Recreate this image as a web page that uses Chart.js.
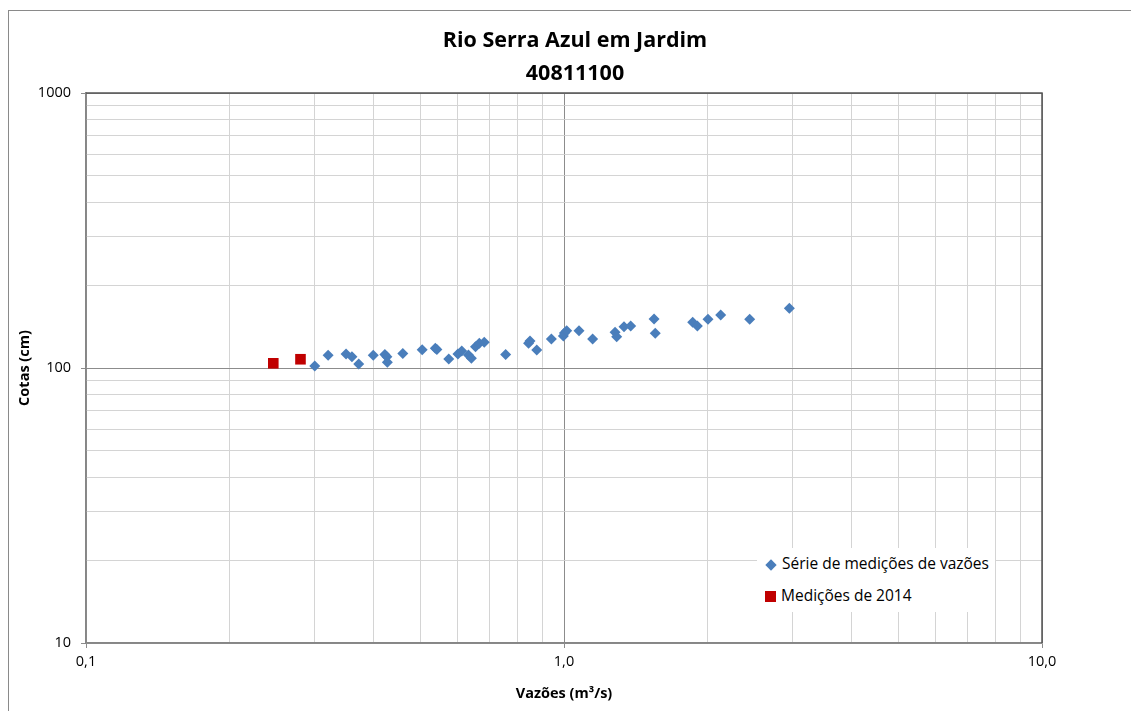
<!DOCTYPE html>
<html>
<head>
<meta charset="utf-8">
<script src="https://cdn.jsdelivr.net/npm/chart.js@4/dist/chart.umd.min.js"></script>
<style>
  html, body { margin: 0; padding: 0; background: #fff; overflow: hidden; }
  #frame { position: absolute; left: 8px; top: 10px; width: 1200px; height: 800px; border: 1px solid #8a8a8a; }
  #wrap { position: absolute; left: 0; top: 0; width: 1131px; height: 711px; }
  #legende { position: absolute; left: 757px; top: 548px; width: 238px; height: 64px; background: #fff;
    font-family: "Open Sans", sans-serif; font-size: 15.5px; color: #000; }
  .item { position: absolute; left: 8px; height: 20px; line-height: 20px; white-space: nowrap; }
  .item span.m { display: inline-block; vertical-align: middle; margin-right: 5px; }
</style>
</head>
<body>
<div id="frame"></div>
<div id="wrap"><canvas id="myChart" width="1131" height="711"></canvas></div>
<div id="legende"></div>
<script>
// données
const qSerie = [0.301, 0.321, 0.350, 0.360, 0.372, 0.399, 0.422, 0.426, 0.427, 0.460,
  0.505, 0.538, 0.542, 0.574, 0.600, 0.611, 0.631, 0.640, 0.653, 0.665,
  0.681, 0.755, 0.843, 0.849, 0.877, 0.941, 0.997, 1.002, 1.013, 1.075,
  1.148, 1.279, 1.289, 1.335, 1.379, 1.543, 1.552, 1.859, 1.901, 2.001,
  2.127, 2.446, 2.961];
const hSerie = [101.7, 111.2, 112.4, 109.9, 103.4, 111.2, 112.0, 109.9, 104.9, 113.0,
  116.6, 117.9, 116.8, 107.9, 112.4, 115.2, 111.5, 108.4, 119.5, 123.0,
  124.0, 112.0, 123.0, 125.4, 116.2, 127.5, 130.7, 134.0, 136.7, 136.7,
  127.5, 134.9, 130.0, 141.3, 142.1, 150.7, 133.7, 146.6, 142.1, 150.5,
  155.9, 150.5, 164.8];
const q2014 = [0.2465, 0.281];
const h2014 = [104.0, 107.6];

const labelsSeries = ['Série de medições de vazões', 'Medições de 2014'];

// graduations
const xGrid = [0.1, 0.2, 0.3, 0.4, 0.5, 0.6, 0.7, 0.8, 0.9, 1, 2, 3, 4, 5, 6, 7, 8, 9, 10];
const xMajor = [0.1, 1, 10];
const xLabels = ['0,1', '1,0', '10,0'];
const yGrid = [10, 20, 30, 40, 50, 60, 70, 80, 90, 100, 200, 300, 400, 500, 600, 700, 800, 900, 1000];
const yMajor = [10, 100, 1000];
const yLabels = ['10', '100', '1000'];

function toPoints(xs, ys) {
  return xs.map((x, i) => ({ x: x, y: ys[i] }));
}

const bleu = '#4a7ebb';
const rouge = '#c00000';

// cadre haut/droite de la zone de tracé
const cadrePlugin = {
  id: 'cadre',
  afterLayout(chart) {
    // le titre est centré sur tout le cadre du graphique (qui dépasse à droite)
    chart.titleBlock.left = 0;
    chart.titleBlock.right = 1150;
  },
  afterDraw(chart) {
    const a = chart.chartArea;
    const ctx = chart.ctx;
    ctx.save();
    ctx.strokeStyle = '#555';
    ctx.lineWidth = 1.5;
    ctx.beginPath();
    ctx.moveTo(a.left, a.top);
    ctx.lineTo(a.right, a.top);
    ctx.lineTo(a.right, a.bottom);
    ctx.stroke();
    ctx.restore();
  }
};

function isMajor(list, v) {
  return list.some(m => Math.abs(m - v) < 1e-9);
}

const police = '"Open Sans", sans-serif';

const ctx = document.getElementById('myChart').getContext('2d');
const myChart = new Chart(ctx, {
  type: 'scatter',
  data: {
    datasets: [{
      label: labelsSeries[0],
      data: toPoints(qSerie, hSerie),
      backgroundColor: bleu,
      borderColor: bleu,
      borderWidth: 0,
      pointStyle: 'rectRot',
      pointRadius: 5.5
    }, {
      label: labelsSeries[1],
      data: toPoints(q2014, h2014),
      backgroundColor: rouge,
      borderColor: rouge,
      borderWidth: 0,
      pointStyle: 'rect',
      pointRadius: 7.5
    }]
  },
  options: {
    responsive: false,
    animation: false,
    layout: { padding: { left: 0, right: 89, top: 0, bottom: 0 } },
    plugins: {
      legend: { display: false },
      tooltip: { enabled: false },
      title: {
        display: true,
        text: ['Rio Serra Azul em Jardim', '40811100'],
        color: '#000',
        font: { family: police, size: 21.5, weight: 'bold', lineHeight: 1.5 },
        padding: { top: 25, bottom: 3.5 }
      }
    },
    scales: {
      x: {
        type: 'logarithmic',
        min: 0.1,
        max: 10,
        afterBuildTicks: s => { s.ticks = xGrid.map(v => ({ value: v })); },
        afterFit: s => { s.height = 68; },
        ticks: {
          autoSkip: false,
          maxRotation: 0,
          padding: 5,
          color: '#000',
          font: { family: police, size: 14.5 },
          callback: v => { const i = xMajor.findIndex(m => Math.abs(m - v) < 1e-9); return i >= 0 ? xLabels[i] : ''; }
        },
        grid: {
          color: c => isMajor(xMajor, c.tick.value) ? '#8c8c8c' : '#d4d4d4',
          tickColor: c => isMajor(xMajor, c.tick.value) ? '#8c8c8c' : 'rgba(0,0,0,0)',
          tickLength: 5,
          lineWidth: 1
        },
        border: { color: '#868686', width: 1.5 },
        title: {
          display: true,
          text: 'Vazões (m³/s)',
          color: '#000',
          font: { family: police, size: 14.5, weight: 'bold' },
          padding: { top: 0, bottom: 8 }
        }
      },
      y: {
        type: 'logarithmic',
        min: 10,
        max: 1000,
        afterBuildTicks: s => { s.ticks = yGrid.map(v => ({ value: v })); },
        afterFit: s => { s.width = 86; },
        ticks: {
          autoSkip: false,
          padding: 10,
          color: '#000',
          font: { family: police, size: 14.5 },
          callback: v => { const i = yMajor.findIndex(m => Math.abs(m - v) < 1e-9); return i >= 0 ? yLabels[i] : ''; }
        },
        grid: {
          color: c => isMajor(yMajor, c.tick.value) ? '#8c8c8c' : '#d4d4d4',
          tickColor: c => isMajor(yMajor, c.tick.value) ? '#8c8c8c' : 'rgba(0,0,0,0)',
          tickLength: 5,
          lineWidth: 1
        },
        border: { color: '#868686', width: 1.5 },
        title: {
          display: true,
          text: 'Cotas (cm)',
          color: '#000',
          font: { family: police, size: 14.5, weight: 'bold' },
          padding: { top: 16, bottom: 0 }
        }
      }
    }
  },
  plugins: [cadrePlugin]
});

// légende HTML à partir des jeux de données
const legende = document.getElementById('legende');
myChart.data.datasets.forEach((ds, i) => {
  const div = document.createElement('div');
  div.className = 'item';
  div.style.top = (i === 0 ? 5 : 37) + 'px';
  const m = document.createElement('span');
  m.className = 'm';
  if (ds.pointStyle === 'rectRot') {
    m.style.width = '8px'; m.style.height = '8px'; m.style.background = ds.backgroundColor;
    m.style.transform = 'rotate(45deg)'; m.style.marginLeft = '2px'; m.style.marginRight = '7px';
  } else {
    m.style.width = '11px'; m.style.height = '11px'; m.style.background = ds.backgroundColor;
  }
  div.appendChild(m);
  div.appendChild(document.createTextNode(ds.label));
  legende.appendChild(div);
});
</script>
</body>
</html>
